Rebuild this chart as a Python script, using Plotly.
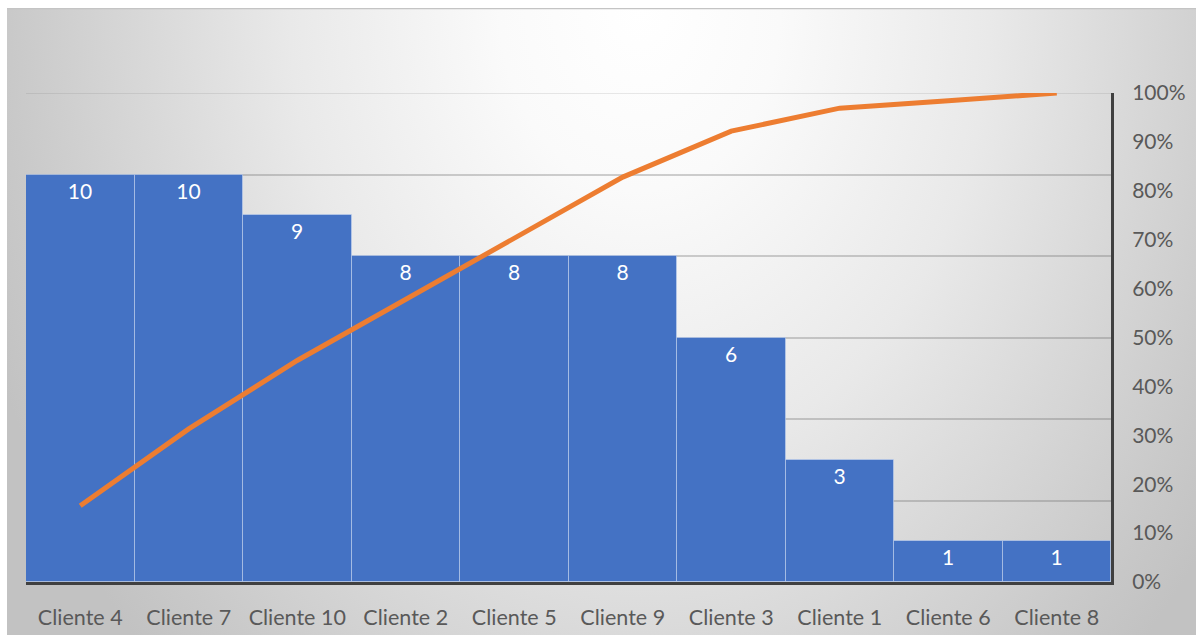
import base64
import plotly.graph_objects as go

# Pareto data: customers sorted by count, with cumulative share
clientes = ["Cliente 4", "Cliente 7", "Cliente 10", "Cliente 2", "Cliente 5",
            "Cliente 9", "Cliente 3", "Cliente 1", "Cliente 6", "Cliente 8"]
cantidades = [10, 10, 9, 8, 8, 8, 6, 3, 1, 1]
acumulado = [0.156, 0.313, 0.453, 0.578, 0.703, 0.828, 0.922, 0.969, 0.984, 1.0]
ticks_pct = [0, 0.1, 0.2, 0.3, 0.4, 0.5, 0.6, 0.7, 0.8, 0.9, 1.0]
eje_max = 12

W, H = 1196, 639
ML, MR, MT, MB = 26, 85, 93, 57
PW, PH = W - ML - MR, H - MT - MB

FONT = "Lato"
TXT = "#595959"
GRID = "rgba(110,110,110,0.32)"

# radial background (light at top centre, grey towards the edges)
bw, bh = 1189, 627
svg = (
    f"<svg xmlns='http://www.w3.org/2000/svg' width='{bw}' height='{bh}'>"
    "<defs><radialGradient id='g' gradientUnits='userSpaceOnUse' cx='633' cy='0' r='700' "
    "gradientTransform='translate(633 0) scale(1 1.3) translate(-633 0)'>"
    "<stop offset='0' stop-color='#ffffff'/>"
    "<stop offset='0.2' stop-color='#fafafa'/>"
    "<stop offset='0.5' stop-color='#e9e9e9'/>"
    "<stop offset='0.9' stop-color='#c9c9c9'/>"
    "<stop offset='1' stop-color='#c2c2c2'/>"
    "</radialGradient></defs>"
    f"<rect x='0' y='0' width='{bw}' height='{bh}' fill='url(#g)'/>"
    f"<line x1='0' y1='0.5' x2='{bw}' y2='0.5' stroke='#c4c4c4' stroke-width='1.5'/>"
    "</svg>"
)
bg_src = "data:image/svg+xml;base64," + base64.b64encode(svg.encode()).decode()

fig = go.Figure()

fig.add_trace(go.Bar(
    x=clientes, y=cantidades,
    marker=dict(color="#4472C4", line=dict(color="rgba(200,215,240,0.55)", width=1)),
    width=1.0,
    text=[str(v) for v in cantidades],
    textposition="inside", insidetextanchor="end",
    textfont=dict(family=FONT, size=21, color="white"),
    textangle=0,
    hoverinfo="skip", showlegend=False,
))

fig.add_trace(go.Scatter(
    x=clientes, y=acumulado, yaxis="y2", mode="lines",
    line=dict(color="#ED7D31", width=5),
    cliponaxis=False, hoverinfo="skip", showlegend=False,
))

fig.update_layout(
    width=W, height=H,
    margin=dict(l=ML, r=MR, t=MT, b=MB, autoexpand=False),
    paper_bgcolor="white", plot_bgcolor="rgba(0,0,0,0)",
    bargap=0,
    font=dict(family=FONT, size=21, color=TXT),
    images=[dict(
        source=bg_src, xref="paper", yref="paper",
        x=-(ML - 7) / PW, y=(H - MB - 8) / PH,
        sizex=bw / PW, sizey=bh / PH,
        xanchor="left", yanchor="top", sizing="stretch", layer="below",
    )],
    shapes=[dict(
        type="line", xref="paper", yref="y", x0=0, x1=1, y0=eje_max, y1=eje_max,
        line=dict(color="rgba(110,110,110,0.2)", width=1.5), layer="below",
    )],
    xaxis=dict(
        showline=True, linecolor="#404040", linewidth=3,
        showgrid=False, ticks="", ticklabelstandoff=14, automargin=False,
        tickfont=dict(family=FONT, size=21.5, color=TXT),
        range=[-0.5, 9.5],
    ),
    yaxis=dict(
        range=[0, eje_max], dtick=2, showticklabels=False, automargin=False,
        showgrid=True, gridcolor=GRID, gridwidth=1.5,
        zeroline=False, showline=False,
    ),
    yaxis2=dict(
        overlaying="y", side="right", range=[0, 1], automargin=False,
        tickvals=ticks_pct, tickformat=".0%",
        showline=True, linecolor="#404040", linewidth=3,
        showgrid=False, zeroline=False, ticks="", ticklabelstandoff=14,
        tickfont=dict(family=FONT, size=21, color=TXT),
    ),
)

fig.write_html("out.html")
